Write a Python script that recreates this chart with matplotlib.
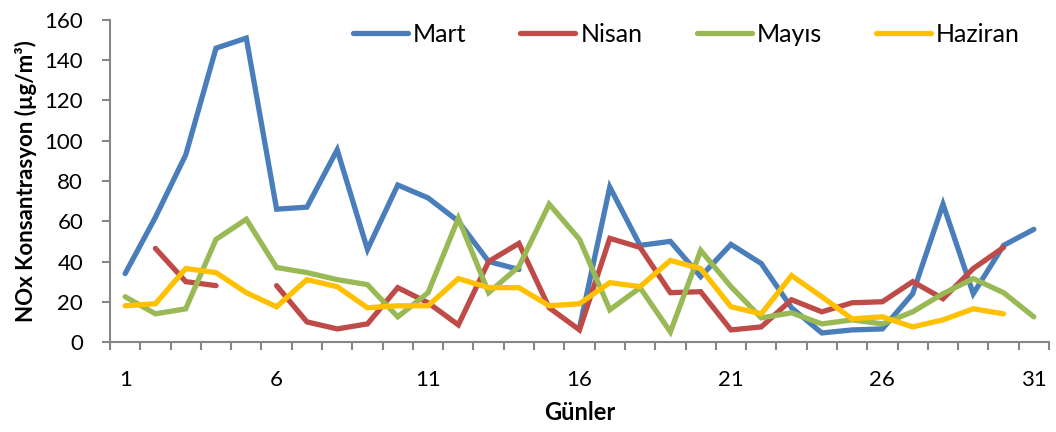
import numpy as np
import matplotlib
matplotlib.use("Agg")
import matplotlib.pyplot as plt

plt.rcParams['font.family'] = ['Lato', 'DejaVu Sans']

nan = np.nan
days = np.arange(1, 32)
tick_days = [1, 6, 11, 16, 21, 26, 31]

mart = [34, 62, 93, 146, 151, 66, 67, 95.5, 46, 78, 71.6, 60, 40, 36, nan, 7,
        77, 48, 50, 32.5, 48.5, 39, 17, 4.5, 6, 6.5, 24, 68.5, 24, 48, 56]
nisan = [nan, 46.5, 30, 28, nan, 28, 10, 6.5, 9, 27, 19.5, 8.5, 40, 49, 17, 6,
         51.5, 47, 24.5, 25, 6, 7.5, 21, 15, 19.5, 20, 30, 21.5, 36.5, 47, nan]
mayis = [22.5, 14, 16.5, 51, 61, 37, 34.5, 31, 28.5, 12.5, 24.5, 61.5, 24.5, 37.5,
         68.5, 51, 16, 27, 5, 45.5, 27.5, 12, 14.5, 9, 11, 9, 15, 24, 31.5, 24.5, 12.5]
haziran = [18, 19, 36.5, 34.5, 24.5, 17.5, 31, 27.5, 17, 18, 18, 31.5, 27, 27, 18,
           19, 29.5, 27.5, 40.5, 36.5, 17.5, 14, 33, 22.5, 11.5, 12.5, 7.5, 11, 16.5, 14, nan]

series = [("Mart", mart, "#4A7EBB"),
          ("Nisan", nisan, "#BE4B48"),
          ("Mayıs", mayis, "#98B954"),
          ("Haziran", haziran, "#FFC000")]

fig = plt.figure(figsize=(10.56, 4.32), dpi=100)
ax = fig.add_axes([110 / 1056, 90 / 432, 939 / 1056, 322 / 432])

for name, vals, col in series:
    ax.plot(days, vals, color=col, lw=3.8, label=name,
            solid_capstyle='round', solid_joinstyle='miter')

ax.set_xlim(0.5, 31.5)
ax.set_ylim(0, 160)
ax.set_yticks(np.arange(0, 161, 20))
ax.set_xticks(tick_days)
ax.set_xticks(np.arange(0.5, 32, 1), minor=True)

gray = "#868686"
for s in ["top", "right"]:
    ax.spines[s].set_visible(False)
for s in ["left", "bottom"]:
    ax.spines[s].set_color(gray)
    ax.spines[s].set_linewidth(1.5)

ax.tick_params(axis='y', which='major', direction='out', length=5.8, width=1.5,
               color=gray, labelsize=16, pad=13.5)
ax.tick_params(axis='x', which='major', length=0, labelsize=16, pad=20)
ax.tick_params(axis='x', which='minor', direction='out', length=5.8, width=1.5, color=gray)

ax.set_xlabel("Günler", fontsize=17, fontweight='bold', labelpad=8)
ax.set_ylabel("NOx Konsantrasyon (µg/m³)", fontsize=16, fontweight='bold', labelpad=5)

ax.legend(ncol=4, loc='upper right', bbox_to_anchor=(0.993, 1.06), frameon=False,
          fontsize=18, handlelength=2.2, columnspacing=2.17, handletextpad=0.2)

fig.savefig("out.png", dpi=100)
